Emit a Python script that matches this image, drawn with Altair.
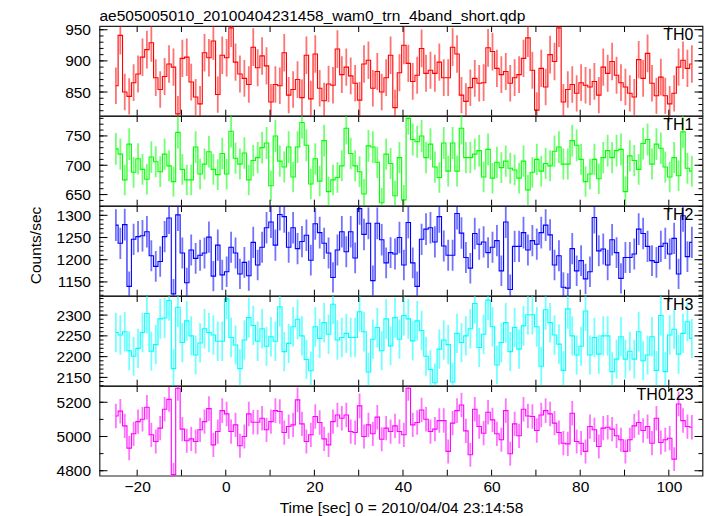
import altair as alt
import pandas as pd
import math

FONT = "Liberation Sans"

title_text = "ae505005010_20100404231458_wam0_trn_4band_short.qdp"
x_title = "Time [sec] 0 = 2010/04/04 23:14:58"
y_title = "Counts/sec"

t_start = -24.8   # centre of first 1 s bin
bin_width = 1.0

th0 = [860, 941, 850, 843, 865, 879, 906, 918, 929, 873, 854, 875, 895, 890, 815, 904, 906, 866, 842, 831,
       913, 905, 932, 846, 909, 905, 953, 898, 879, 872, 862, 922, 889, 908, 892, 834, 862, 860, 913, 845,
       854, 870, 841, 909, 839, 911, 856, 836, 863, 861, 919, 878, 890, 876,
       864, 837, 895, 901, 856, 883, 850, 873, 909, 825, 881, 925, 896, 867, 877, 920, 880, 885, 880, 898,
       873, 873, 922, 911, 845, 835, 857, 872, 864, 865, 921, 915, 888, 878, 883, 864, 873, 878, 904, 937,
       885, 821, 888, 858, 910, 899, 953, 834, 854, 862, 848, 865, 861, 858, 867, 845, 890, 880, 899, 877,
       865, 858, 848, 842, 902, 872, 912, 864, 844, 874, 844, 831, 848, 890, 901, 888, 895]

th1 = [728, 719, 675, 736, 688, 711, 693, 676, 714, 706, 689, 719, 699, 672, 756, 693, 675, 675, 731, 685,
       702, 723, 693, 684, 720, 685, 758, 712, 702, 721, 675, 708, 713, 730, 738, 665, 750, 707, 697, 731,
       680, 731, 773, 734, 668, 711, 673, 742, 655, 675, 679, 699, 763, 720, 699,
       689, 651, 733, 731, 705, 636, 719, 703, 648, 713, 641, 780, 744, 740, 750, 713, 736, 697, 679, 738,
       690, 738, 690, 763, 713, 713, 719, 725, 680, 727, 678, 705, 696, 707, 695, 692, 678, 707, 658, 688,
       710, 690, 703, 699, 724, 731, 702, 702, 742, 734, 710, 672, 685, 710, 677, 713, 725, 713, 725, 727,
       655, 716, 708, 693, 737, 744, 702, 736, 729, 697, 680, 713, 682, 757, 695, 690]

th2 = [1278, 1237, 1279, 1140, 1246, 1252, 1254, 1263, 1209, 1185, 1196, 1252, 1294, 1123, 1301, 1215, 1148, 1222, 1203, 1210,
       1215, 1251, 1163, 1233, 1166, 1173, 1228, 1215, 1168, 1194, 1164, 1239, 1188, 1228, 1272, 1285, 1233, 1302, 1297, 1228,
       1272, 1225, 1241, 1255, 1199, 1281, 1261, 1237, 1215, 1160, 1222, 1263, 1218, 1263, 1204,
       1315, 1257, 1282, 1153, 1282, 1245, 1193, 1216, 1213, 1250, 1188, 1284, 1193, 1140, 1246, 1269, 1272, 1240, 1297, 1231,
       1210, 1210, 1304, 1260, 1205, 1181, 1259, 1235, 1240, 1216, 1228, 1243, 1175, 1285, 1133, 1230, 1230, 1261, 1222, 1243,
       1235, 1261, 1278, 1256, 1188, 1209, 1138, 1136, 1225, 1175, 1198, 1157, 1173, 1295, 1220, 1224, 1188, 1245, 1216, 1158,
       1205, 1205, 1213, 1269, 1259, 1230, 1198, 1194, 1230, 1237, 1213, 1248, 1168, 1299, 1207, 1239]

th3 = [2258, 2252, 2260, 2214, 2201, 2220, 2258, 2304, 2213, 2229, 2291, 2293, 2335, 2171, 2319, 2234, 2286, 2250, 2204, 2233,
       2267, 2258, 2252, 2237, 2237, 2339, 2246, 2228, 2171, 2240, 2294, 2275, 2237, 2267, 2225, 2248, 2237, 2320, 2212, 2232,
       2272, 2290, 2250, 2193, 2166, 2272, 2244, 2282, 2254, 2326, 2240, 2246, 2256, 2246, 2246,
       2308, 2260, 2163, 2242, 2270, 2214, 2291, 2226, 2294, 2242, 2299, 2291, 2238, 2286, 2263, 2201, 2169, 2137, 2218, 2240,
       2229, 2139, 2256, 2234, 2250, 2267, 2328, 2222, 2254, 2336, 2272, 2180, 2234, 2282, 2212, 2270, 2218, 2274, 2301, 2301,
       2272, 2177, 2313, 2282, 2252, 2230, 2167, 2315, 2250, 2204, 2225, 2310, 2204, 2246, 2206, 2250, 2250, 2164, 2194, 2248,
       2194, 2213, 2194, 2260, 2190, 2204, 2248, 2167, 2299, 2164, 2252, 2266, 2206, 2256, 2284, 2244]

th0123 = [5120, 5148, 5062, 4932, 5016, 5087, 5101, 5171, 5010, 4971, 5049, 5159, 5217, 4777, 5282, 5043, 4975, 4986, 4971, 5039,
          5087, 5163, 4951, 5029, 5151, 5132, 5029, 5068, 4946, 5000, 5132, 5083, 5083, 5107, 5039, 5087, 5151, 5146, 5023, 5058,
          5068, 5214, 5074, 4971, 5010, 5117, 5082, 4986, 4951, 5087, 5126, 5107, 5126, 5029,
          5023, 5179, 5000, 5068, 5016, 5113, 4984, 5049, 5029, 5062, 5029, 5010, 5282, 5068, 5082, 5155, 5101, 5029, 5043, 5093,
          5093, 4913, 5078, 5151, 5184, 5033, 4893, 5159, 5058, 5019, 5142, 5097, 5016, 4981, 5151, 4899, 5074, 5004, 5159, 5120,
          5117, 5035, 5126, 5151, 5132, 5078, 5023, 4961, 4957, 5136, 4971, 4961, 4913, 5058, 5039, 4942, 5049, 5054, 5043, 5004,
          4981, 4913, 4981, 5062, 5082, 5035, 5058, 4961, 5107, 4965, 4981, 4990, 4868, 5190, 5093, 5058, 5054]

series = [th0, th1, th2, th3, th0123]
panel_names = ["TH0", "TH1", "TH2", "TH3", "TH0123"]
panel_colors = ["#ff0000", "#00ff00", "#0000ff", "#00ffff", "#ff00ff"]
panel_domains = [[812, 956], [631, 784], [1119, 1321], [2130, 2346], [4771, 5295]]
panel_labels = [[850, 900, 950], [650, 700, 750], [1150, 1200, 1250, 1300],
                [2150, 2200, 2250, 2300], [4800, 5000, 5200]]
panel_minor = [10, 10, 10, 10, 100]
x_domain = [-28.5, 107.6]
x_labels = [-20, 0, 20, 40, 60, 80, 100]
x_ticks = [-20, -10, 0, 10, 20, 30, 40, 50, 60, 70, 80, 90, 100]

W, H = 603, 89.7
MAJ, MIN, XT = 8, 4, 6
FS = 15.5


def minor_values(dom, step):
    lo = math.ceil(dom[0] / step) * step
    return list(range(int(lo), int(dom[1]) + 1, step))


def panel(i):
    vals = series[i]
    df = pd.DataFrame({"t": [t_start + k * bin_width for k in range(len(vals))], "rate": vals})
    c = panel_colors[i]
    xs = alt.Scale(domain=x_domain, nice=False, zero=False)
    ys = alt.Scale(domain=panel_domains[i], nice=False, zero=False)
    last = i == len(series) - 1
    if last:
        xaxis = alt.Axis(values=x_labels, title=x_title, ticks=False, tickSize=0, domain=False,
                         grid=False, labelPadding=4, titlePadding=5, labelFlush=False,
                         format="d", labelFont=FONT, labelFontSize=FS, labelColor="black",
                         titleFont=FONT, titleFontSize=FS, titleFontWeight="normal", titleColor="black")
    else:
        xaxis = None
    yargs = dict(values=panel_labels[i], ticks=False, tickSize=0, domain=False, grid=False,
                 labelPadding=9, labelFlush=False, labelOverlap=False, format="d",
                 labelFont=FONT, labelFontSize=FS, labelColor="black",
                 titleFont=FONT, titleFontSize=FS, titleFontWeight="normal", titleColor="black")
    if i == 2:
        yaxis = alt.Axis(title=y_title, titleX=-56, titleY=39, **yargs)
    else:
        yaxis = alt.Axis(title=None, **yargs)

    base = alt.Chart(df)
    err = base.transform_calculate(
        lo="datum.rate - sqrt(datum.rate)", hi="datum.rate + sqrt(datum.rate)"
    ).mark_rule(color=c, opacity=0.55, strokeWidth=1.8, clip=True).encode(
        x=alt.X("t:Q", scale=xs, axis=xaxis),
        y=alt.Y("lo:Q", scale=ys, axis=yaxis),
        y2="hi:Q",
    )
    step = base.mark_line(interpolate="step", color=c, strokeWidth=1.1, clip=True).encode(
        x=alt.X("t:Q", scale=xs, axis=xaxis),
        y=alt.Y("rate:Q", scale=ys, axis=yaxis),
    )

    major_df = pd.DataFrame({"v": panel_labels[i]})
    minor_df = pd.DataFrame({"v": minor_values(panel_domains[i], panel_minor[i])})
    xt_df = pd.DataFrame({"v": x_ticks})

    def ytick(d, x0, x1):
        return alt.Chart(d).mark_rule(color="black", strokeWidth=1).encode(
            y=alt.Y("v:Q", scale=ys, axis=yaxis), x=alt.value(x0), x2=alt.value(x1))

    def xtick(y0, y1):
        return alt.Chart(xt_df).mark_rule(color="black", strokeWidth=1).encode(
            x=alt.X("v:Q", scale=xs, axis=xaxis), y=alt.value(y0), y2=alt.value(y1))

    lab = alt.Chart(pd.DataFrame({"name": [panel_names[i]]})).mark_text(
        align="right", baseline="top", font=FONT, fontSize=16, color="black"
    ).encode(text="name:N", x=alt.value(W - 9), y=alt.value(1))

    layers = [err, step,
              ytick(minor_df, 0, MIN), ytick(major_df, 0, MAJ),
              ytick(minor_df, W - MIN, W), ytick(major_df, W - MAJ, W),
              xtick(0, XT), xtick(H - XT, H), lab]
    ch = alt.layer(*layers).properties(width=W, height=H)
    if i == 0:
        ch = ch.properties(title=alt.TitleParams(title_text, anchor="start", frame="group",
                                                 fontSize=FS, font=FONT, fontWeight="normal",
                                                 color="black", offset=-2))
    return ch


chart = alt.vconcat(*[panel(i) for i in range(len(series))], spacing=0, bounds="flush",
                    background="white").properties(
    padding={"left": 19.5, "top": 0, "right": 0, "bottom": 0}
).configure_view(
    stroke="#222222", strokeWidth=1.2
)

chart.save("out.html", embed_options={"renderer": "svg", "actions": False})
